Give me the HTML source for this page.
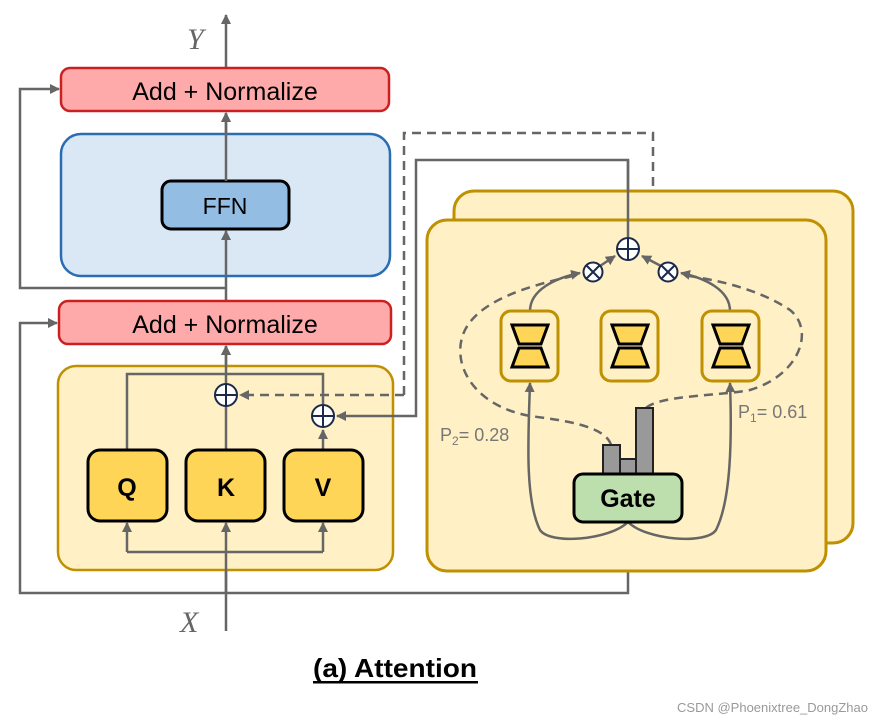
<!DOCTYPE html>
<html><head><meta charset="utf-8"><style>
body{margin:0;background:#fff}
svg{display:block}
</style></head><body>
<svg width="874" height="724" viewBox="0 0 874 724" xmlns="http://www.w3.org/2000/svg" font-family="Liberation Sans, sans-serif">
<defs>
<marker id="a" markerWidth="10" markerHeight="10" refX="9" refY="5" orient="auto" markerUnits="userSpaceOnUse"><path d="M0,0 L10,5 L0,10 Z" fill="#666"/></marker>
<g id="hg"><path d="M-18,-21 H18 L11,-2 H-11 Z M-11,2 H11 L18,21 H-18 Z" fill="#ffd557" stroke="#000" stroke-width="3" stroke-linejoin="miter"/></g>
</defs>
<g fill="none" stroke="#666" stroke-width="2.5">
<path d="M226,288 H20 V89 H59" marker-end="url(#a)"/>
<path d="M226,631 V521" marker-end="url(#a)"/>
<path d="M226,593 H20 V323 H57" marker-end="url(#a)"/>
<path d="M226,593 H628 V524" marker-end="url(#a)"/>
<path d="M226,68 V15" marker-end="url(#a)"/>
<path d="M226,181 V113" marker-end="url(#a)"/>
<path d="M226,300 V231" marker-end="url(#a)"/>
<path d="M226,366 V346" marker-end="url(#a)"/>
</g>
<text x="187" y="49" style="font-family:'Liberation Serif',serif;font-style:italic" font-size="30" fill="#666">Y</text>
<text x="180" y="632" style="font-family:'Liberation Serif',serif;font-style:italic" font-size="30" fill="#666">X</text>
<rect x="61" y="68" width="328" height="43" rx="9" fill="#ffaaaa" stroke="#cc2020" stroke-width="2.5"/>
<text x="225" y="100" text-anchor="middle" font-size="25" fill="#000">Add + Normalize</text>
<rect x="61" y="134" width="329" height="142" rx="20" fill="#dae8f6" stroke="#2a6db0" stroke-width="2.5"/>
<path d="M226,276 V231" stroke="#666" stroke-width="2.5" fill="none" marker-end="url(#a)"/>
<rect x="162" y="181" width="127" height="48" rx="9" fill="#93bde3" stroke="#000" stroke-width="3"/>
<text x="225" y="214" text-anchor="middle" font-size="23">FFN</text>
<path d="M226,181 V113" stroke="#666" stroke-width="2.5" fill="none" marker-end="url(#a)"/>
<rect x="59" y="301" width="332" height="43" rx="9" fill="#ffaaaa" stroke="#cc2020" stroke-width="2.5"/>
<text x="225" y="333" text-anchor="middle" font-size="25">Add + Normalize</text>
<rect x="58" y="366" width="335" height="204" rx="18" fill="#fff0c5" stroke="#bf9000" stroke-width="2.5"/>
<g fill="none" stroke="#666" stroke-width="2.5">
<path d="M226,394 V346" marker-end="url(#a)"/>
<path d="M127,450 V374 H323 V404"/>
<path d="M226,450 V406"/>
<path d="M323,450 V430" marker-end="url(#a)"/>
<path d="M127,552 H323"/>
<path d="M127,552 V523" marker-end="url(#a)"/>
<path d="M323,552 V523" marker-end="url(#a)"/>
<path d="M226,593 V523" marker-end="url(#a)"/>
<path d="M404,395 V133 H653 V192 M404,395 H240" stroke-dasharray="9,6" marker-end="url(#a)"/>
<path d="M628,237 V160 H416 V416 H337" marker-end="url(#a)"/>
</g>
<g stroke="#1a2a4a" stroke-width="2" fill="#fff">
<circle cx="226" cy="395" r="11"/><path d="M215,395 H237 M226,384 V406"/>
<circle cx="323" cy="416" r="11"/><path d="M312,416 H334 M323,405 V427"/>
</g>
<g stroke="#000" stroke-width="3" fill="#ffd557">
<rect x="88" y="450" width="79" height="71" rx="12"/>
<rect x="186" y="450" width="79" height="71" rx="12"/>
<rect x="284" y="450" width="79" height="71" rx="12"/>
</g>
<text x="127" y="496" text-anchor="middle" font-size="25" font-weight="bold">Q</text>
<text x="226" y="496" text-anchor="middle" font-size="25" font-weight="bold">K</text>
<text x="323" y="496" text-anchor="middle" font-size="25" font-weight="bold">V</text>
<rect x="454" y="191" width="399" height="352" rx="20" fill="#fff0c5" stroke="#bf9000" stroke-width="3"/>
<rect x="427" y="220" width="399" height="351" rx="20" fill="#fff0c5" stroke="#bf9000" stroke-width="3"/>
<path d="M628,160 V237" stroke="#666" stroke-width="2.5"/>
<g fill="none" stroke="#666" stroke-width="2.5">
<path d="M628,522 C610,540 550,545 540,530 C525,500 528,440 530,383" marker-end="url(#a)"/>
<path d="M628,522 C646,540 706,545 716,530 C731,500 732,440 730,383" marker-end="url(#a)"/>
<path d="M530,311 C530,290 555,278 580,273" marker-end="url(#a)"/>
<path d="M730,311 C730,290 705,278 681,273" marker-end="url(#a)"/>
<path d="M600,266 L615,256" marker-end="url(#a)"/>
<path d="M661,266 L642,256" marker-end="url(#a)"/>
<g stroke-dasharray="9,6">
<path d="M611,445 C605,425 560,420 530,416 C470,405 450,360 465,330 C480,300 530,285 578,275"/>
<path d="M646,408 C660,395 720,396 750,390 C800,375 815,330 790,310 C760,290 720,280 682,275"/>
</g>
</g>
<g stroke="#1a2a4a" stroke-width="2" fill="#fff">
<circle cx="628" cy="249" r="11"/><path d="M617,249 H639 M628,238 V260"/>
<circle cx="593" cy="272" r="9.5"/><path d="M586,265 L600,279 M600,265 L586,279"/>
<circle cx="668" cy="272" r="9.5"/><path d="M661,265 L675,279 M675,265 L661,279"/>
</g>
<g fill="#fff0c5" stroke="#bf9000" stroke-width="3">
<rect x="501" y="311" width="57" height="70" rx="10"/>
<rect x="601" y="311" width="57" height="70" rx="10"/>
<rect x="702" y="311" width="57" height="70" rx="10"/>
</g>
<use href="#hg" transform="translate(530,346)"/>
<use href="#hg" transform="translate(630,346)"/>
<use href="#hg" transform="translate(731,346)"/>
<g fill="#999" stroke="#222" stroke-width="2">
<rect x="603" y="445" width="17" height="30"/>
<rect x="620" y="459" width="16" height="16"/>
<rect x="636" y="408" width="17" height="67"/>
</g>
<rect x="574" y="474" width="108" height="48" rx="9" fill="#bddfae" stroke="#000" stroke-width="3"/>
<text x="628" y="507" text-anchor="middle" font-size="25" font-weight="bold">Gate</text>
<text x="440" y="441" font-size="18" fill="#777">P<tspan font-size="12" dy="4">2</tspan><tspan dy="-4">= 0.28</tspan></text>
<text x="738" y="418" font-size="18" fill="#777">P<tspan font-size="12" dy="4">1</tspan><tspan dy="-4">= 0.61</tspan></text>
<text x="395" y="677" text-anchor="middle" font-size="26" font-weight="bold" textLength="164" lengthAdjust="spacingAndGlyphs">(a) Attention</text>
<rect x="313" y="681" width="165" height="2.5" fill="#000"/>
<text x="868" y="712" text-anchor="end" font-size="13" fill="#999">CSDN @Phoenixtree_DongZhao</text>
</svg>
</body></html>
